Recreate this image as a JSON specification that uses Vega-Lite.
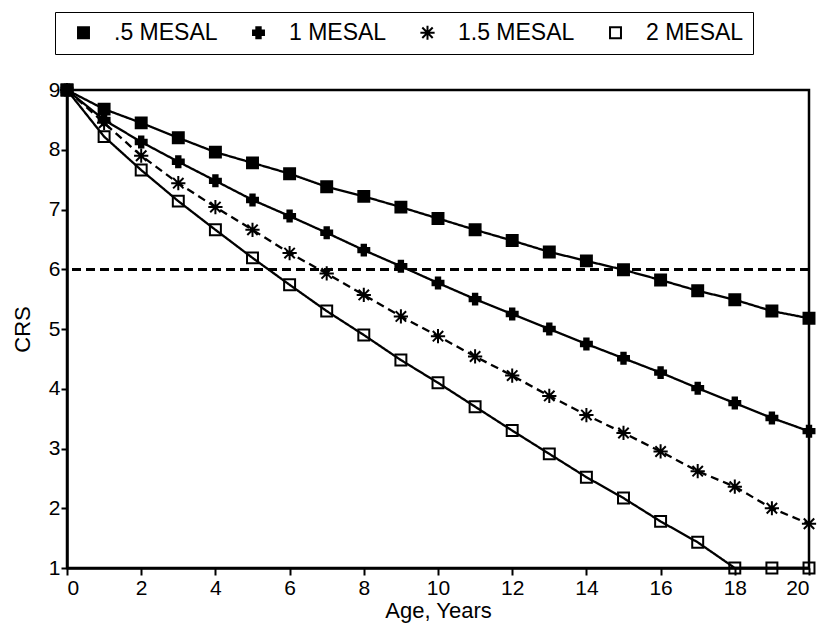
{
  "$schema": "https://vega.github.io/schema/vega-lite/v6.json",
  "width": 742,
  "height": 478,
  "autosize": {"type": "none"},
  "padding": {"left": 67, "top": 90, "right": 17, "bottom": 64},
  "background": "white",
  "config": {
    "view": {"stroke": "black", "strokeWidth": 2.5},
    "font": "Liberation Sans",
    "axis": {
      "grid": false,
      "domainColor": "black",
      "domainWidth": 2.5,
      "tickColor": "black",
      "tickWidth": 2,
      "tickSize": 7,
      "labelColor": "black",
      "labelFont": "Liberation Sans",
      "labelFontSize": 21,
      "titleColor": "black",
      "titleFont": "Liberation Sans",
      "titleFontSize": 22,
      "titleFontWeight": "normal"
    },
    "legend": {
      "title": null,
      "orient": "none",
      "legendX": -12,
      "legendY": -78,
      "direction": "horizontal",
      "columns": 4,
      "padding": 9,
      "strokeColor": "black",
      "columnPadding": 21,
      "labelFont": "Liberation Sans",
      "labelFontSize": 23,
      "labelColor": "black",
      "symbolOffset": 8,
      "labelOffset": 19,
      "symbolSize": 120,
      "symbolStrokeWidth": 2,
      "symbolStrokeColor": "black"
    }
  },
  "data": {
    "values": [
      {"age": 0, "series": ".5 MESAL", "crs": 9.0},
      {"age": 1, "series": ".5 MESAL", "crs": 8.68},
      {"age": 2, "series": ".5 MESAL", "crs": 8.45},
      {"age": 3, "series": ".5 MESAL", "crs": 8.2},
      {"age": 4, "series": ".5 MESAL", "crs": 7.96},
      {"age": 5, "series": ".5 MESAL", "crs": 7.78},
      {"age": 6, "series": ".5 MESAL", "crs": 7.6},
      {"age": 7, "series": ".5 MESAL", "crs": 7.38},
      {"age": 8, "series": ".5 MESAL", "crs": 7.22},
      {"age": 9, "series": ".5 MESAL", "crs": 7.04},
      {"age": 10, "series": ".5 MESAL", "crs": 6.85},
      {"age": 11, "series": ".5 MESAL", "crs": 6.66},
      {"age": 12, "series": ".5 MESAL", "crs": 6.48},
      {"age": 13, "series": ".5 MESAL", "crs": 6.29},
      {"age": 14, "series": ".5 MESAL", "crs": 6.14},
      {"age": 15, "series": ".5 MESAL", "crs": 5.99},
      {"age": 16, "series": ".5 MESAL", "crs": 5.82},
      {"age": 17, "series": ".5 MESAL", "crs": 5.64},
      {"age": 18, "series": ".5 MESAL", "crs": 5.49},
      {"age": 19, "series": ".5 MESAL", "crs": 5.3},
      {"age": 20, "series": ".5 MESAL", "crs": 5.18},
      {"age": 0, "series": "1 MESAL", "crs": 9.0},
      {"age": 1, "series": "1 MESAL", "crs": 8.5},
      {"age": 2, "series": "1 MESAL", "crs": 8.13},
      {"age": 3, "series": "1 MESAL", "crs": 7.8},
      {"age": 4, "series": "1 MESAL", "crs": 7.48},
      {"age": 5, "series": "1 MESAL", "crs": 7.16},
      {"age": 6, "series": "1 MESAL", "crs": 6.89},
      {"age": 7, "series": "1 MESAL", "crs": 6.61},
      {"age": 8, "series": "1 MESAL", "crs": 6.32},
      {"age": 9, "series": "1 MESAL", "crs": 6.05},
      {"age": 10, "series": "1 MESAL", "crs": 5.77},
      {"age": 11, "series": "1 MESAL", "crs": 5.5},
      {"age": 12, "series": "1 MESAL", "crs": 5.25},
      {"age": 13, "series": "1 MESAL", "crs": 5.0},
      {"age": 14, "series": "1 MESAL", "crs": 4.75},
      {"age": 15, "series": "1 MESAL", "crs": 4.51},
      {"age": 16, "series": "1 MESAL", "crs": 4.27},
      {"age": 17, "series": "1 MESAL", "crs": 4.01},
      {"age": 18, "series": "1 MESAL", "crs": 3.76},
      {"age": 19, "series": "1 MESAL", "crs": 3.51},
      {"age": 20, "series": "1 MESAL", "crs": 3.29},
      {"age": 0, "series": "1.5 MESAL", "crs": 9.0},
      {"age": 1, "series": "1.5 MESAL", "crs": 8.45},
      {"age": 2, "series": "1.5 MESAL", "crs": 7.9},
      {"age": 3, "series": "1.5 MESAL", "crs": 7.44},
      {"age": 4, "series": "1.5 MESAL", "crs": 7.04},
      {"age": 5, "series": "1.5 MESAL", "crs": 6.66},
      {"age": 6, "series": "1.5 MESAL", "crs": 6.27},
      {"age": 7, "series": "1.5 MESAL", "crs": 5.93},
      {"age": 8, "series": "1.5 MESAL", "crs": 5.57},
      {"age": 9, "series": "1.5 MESAL", "crs": 5.21},
      {"age": 10, "series": "1.5 MESAL", "crs": 4.88},
      {"age": 11, "series": "1.5 MESAL", "crs": 4.54},
      {"age": 12, "series": "1.5 MESAL", "crs": 4.22},
      {"age": 13, "series": "1.5 MESAL", "crs": 3.88},
      {"age": 14, "series": "1.5 MESAL", "crs": 3.56},
      {"age": 15, "series": "1.5 MESAL", "crs": 3.26},
      {"age": 16, "series": "1.5 MESAL", "crs": 2.95},
      {"age": 17, "series": "1.5 MESAL", "crs": 2.62},
      {"age": 18, "series": "1.5 MESAL", "crs": 2.36},
      {"age": 19, "series": "1.5 MESAL", "crs": 2.0},
      {"age": 20, "series": "1.5 MESAL", "crs": 1.74},
      {"age": 0, "series": "2 MESAL", "crs": 9.0},
      {"age": 1, "series": "2 MESAL", "crs": 8.22},
      {"age": 2, "series": "2 MESAL", "crs": 7.66},
      {"age": 3, "series": "2 MESAL", "crs": 7.14},
      {"age": 4, "series": "2 MESAL", "crs": 6.66},
      {"age": 5, "series": "2 MESAL", "crs": 6.19},
      {"age": 6, "series": "2 MESAL", "crs": 5.74},
      {"age": 7, "series": "2 MESAL", "crs": 5.3},
      {"age": 8, "series": "2 MESAL", "crs": 4.9},
      {"age": 9, "series": "2 MESAL", "crs": 4.48},
      {"age": 10, "series": "2 MESAL", "crs": 4.1},
      {"age": 11, "series": "2 MESAL", "crs": 3.7},
      {"age": 12, "series": "2 MESAL", "crs": 3.3},
      {"age": 13, "series": "2 MESAL", "crs": 2.91},
      {"age": 14, "series": "2 MESAL", "crs": 2.52},
      {"age": 15, "series": "2 MESAL", "crs": 2.17},
      {"age": 16, "series": "2 MESAL", "crs": 1.78},
      {"age": 17, "series": "2 MESAL", "crs": 1.43},
      {"age": 18, "series": "2 MESAL", "crs": 1.0},
      {"age": 19, "series": "2 MESAL", "crs": 1.0},
      {"age": 20, "series": "2 MESAL", "crs": 1.0}
    ]
  },
  "layer": [
    {
      "mark": {"type": "rule", "stroke": "black", "strokeWidth": 2, "strokeDash": [9, 5]},
      "encoding": {"y": {"datum": 6, "type": "quantitative"}}
    },
    {
      "mark": {"type": "line", "stroke": "black", "strokeWidth": 2.3},
      "encoding": {
        "x": {
          "field": "age",
          "type": "quantitative",
          "scale": {"domain": [0, 20], "nice": false, "zero": false},
          "axis": {"title": "Age, Years", "values": [0, 2, 4, 6, 8, 10, 12, 14, 16, 18, 20], "format": "d", "labelPadding": 2, "titlePadding": 2}
        },
        "y": {
          "field": "crs",
          "type": "quantitative",
          "scale": {"domain": [1, 9], "nice": false, "zero": false},
          "axis": {"title": "CRS", "values": [1, 2, 3, 4, 5, 6, 7, 8, 9], "format": "d", "labelPadding": 1, "titlePadding": 14, "tickSize": 6}
        },
        "detail": {"field": "series"},
        "strokeDash": {
          "field": "series",
          "scale": {"domain": ["2 MESAL", "1.5 MESAL", "1 MESAL", ".5 MESAL"], "range": [[1, 0], [8, 5], [1, 0], [1, 0]]},
          "legend": null
        }
      }
    },
    {
      "mark": {"type": "point", "strokeWidth": 2, "size": 120, "opacity": 1},
      "encoding": {
        "x": {"field": "age", "type": "quantitative"},
        "y": {"field": "crs", "type": "quantitative"},
        "shape": {
          "field": "series",
          "scale": {
            "domain": [".5 MESAL", "1 MESAL", "1.5 MESAL", "2 MESAL"],
            "range": ["square", "cross", "M-1.3,0H1.3M0,-1.3V1.3M-0.95,-0.95L0.95,0.95M-0.95,0.95L0.95,-0.95", "square"]
          },
          "legend": {}
        },
        "fill": {
          "field": "series",
          "scale": {"domain": [".5 MESAL", "1 MESAL", "1.5 MESAL", "2 MESAL"], "range": ["black", "black", "transparent", "transparent"]},
          "legend": {}
        },
        "stroke": {
          "field": "series",
          "scale": {"domain": [".5 MESAL", "1 MESAL", "1.5 MESAL", "2 MESAL"], "range": ["black", "black", "black", "black"]},
          "legend": {}
        }
      }
    }
  ]
}
